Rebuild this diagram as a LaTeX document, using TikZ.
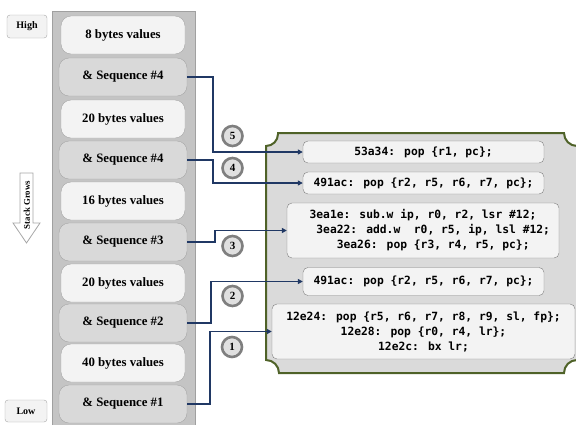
\documentclass[tikz,border=0pt]{standalone}
\usepackage{fontspec}
\setmainfont{Liberation Serif}
\newfontfamily\codefont{DejaVu Sans Mono}
\usetikzlibrary{arrows.meta}
\definecolor{colfill}{RGB}{196,196,196}
\definecolor{colline}{RGB}{160,160,160}
\definecolor{lightbox}{RGB}{243,243,243}
\definecolor{seqgray}{RGB}{217,217,217}
\definecolor{boxline}{RGB}{166,166,166}
\definecolor{greenline}{RGB}{79,98,40}
\definecolor{greenfill}{RGB}{218,218,218}
\definecolor{codeline}{RGB}{127,127,127}
\definecolor{navy}{RGB}{32,56,100}
\definecolor{ringgray}{RGB}{127,127,127}
\definecolor{numfill}{RGB}{224,224,224}
\tikzset{
  valbox/.style={draw=boxline, fill=lightbox, rounded corners=10pt, minimum width=124pt, minimum height=38pt, inner sep=0pt, font=\fontsize{12.8}{15}\selectfont\bfseries},
  seqbox/.style={valbox, fill=seqgray, minimum width=128pt},
  codebox/.style={draw=codeline, fill=lightbox, rounded corners=5pt, inner sep=0pt, align=center, font=\codefont\fontsize{11.3}{15}\selectfont\bfseries},
  numc/.style={circle, draw=ringgray, line width=2.6pt, fill=numfill, minimum size=20pt, inner sep=0pt, font=\fontsize{11}{12}\selectfont\bfseries},
  conn/.style={draw=navy, line width=1.6pt, -{Triangle[length=5pt,width=5pt]}},
  tagbox/.style={draw=boxline, fill=lightbox, rounded corners=3pt, inner sep=0pt, font=\fontsize{10}{12}\selectfont\bfseries}
}
\begin{document}
\begin{tikzpicture}[x=1pt,y=-1pt]
\useasboundingbox (0,0) rectangle (576,424);
% stack column
\fill[colfill] (52,11) rectangle (195,430);
\draw[colline, line width=0.8pt] (52,430) -- (52,11) -- (195,11) -- (195,430);
% stack entries
\node[valbox] (v8) at (123,35) {8 bytes values};
\node[seqbox] (s4a) at (123,77) {\& Sequence \#4};
\node[valbox] (v20a) at (123,119) {20 bytes values};
\node[seqbox] (s4b) at (123,160) {\& Sequence \#4};
\node[valbox] (v16) at (123,201) {16 bytes values};
\node[seqbox] (s3) at (123,242) {\& Sequence \#3};
\node[valbox] (v20b) at (123,283) {20 bytes values};
\node[seqbox] (s2) at (123,323) {\& Sequence \#2};
\node[valbox] (v40) at (123,363) {40 bytes values};
\node[seqbox] (s1) at (123,404) {\& Sequence \#1};
% high / low
\node[tagbox, minimum width=40pt, minimum height=23pt] (hi) at (27,26.5) {High};
\node[tagbox, minimum width=42pt, minimum height=22pt] (lo) at (26,411) {Low};
% stack grows arrow
\draw[draw=boxline, fill=white, line width=0.8pt] (20,173) -- (33,173) -- (33,223) -- (40,223) -- (26.5,243) -- (13,223) -- (20,223) -- cycle;
\node[rotate=90, inner sep=0pt, font=\fontsize{8.8}{10}\selectfont\bfseries] (sg) at (26.8,205) {Stack Grows};
% gadget container
\draw[draw=greenline, fill=greenfill, line width=2pt]
  (278,133) -- (564,133) arc[start angle=180,end angle=270,radius=13pt]
  -- (577,360) arc[start angle=90,end angle=180,radius=13pt]
  -- (279,373) arc[start angle=0,end angle=90,radius=13pt]
  -- (266,146) arc[start angle=-90,end angle=0,radius=12pt] -- cycle;
% code boxes
\node[codebox, minimum width=241pt, minimum height=22pt] (c5) at (423.5,152) {53a34: pop \{r1, pc\};};
\node[codebox, minimum width=241pt, minimum height=22pt] (c4) at (423.5,183) {491ac: pop \{r2, r5, r6, r7, pc\};};
\node[codebox, minimum width=272pt, minimum height=55pt] (c3) at (423,230.5) {3ea1e: sub.w ip, r0, r2, lsr \#12;\\\phantom{000}3ea22: add.w\ \ r0, r5, ip, lsl \#12;\\\phantom{000}3ea26: pop \{r3, r4, r5, pc\};};
\node[codebox, minimum width=241pt, minimum height=28pt] (c2) at (423.5,281.5) {491ac: pop \{r2, r5, r6, r7, pc\};};
\node[codebox, minimum width=303pt, minimum height=55pt] (c1) at (423.5,331.5) {12e24: pop \{r5, r6, r7, r8, r9, sl, fp\};\\12e28: pop \{r0, r4, lr\};\\12e2c: bx lr;};
% connectors
\draw[conn] (s4a.east) -- ++(26,0) |- (c5.west);
\draw[conn] (s4b.east) -- ++(26,0) |- (c4.west);
\draw[conn] (s3.east) -- ++(28,0) |- (c3.west);
\draw[conn] (s2.east) -- ++(24,0) |- (c2.west);
\draw[conn] (s1.east) -- ++(23,0) |- (c1.west);
% step numbers
\node[numc] (n5) at (232.5,136) {5};
\node[numc] (n4) at (232.5,168) {4};
\node[numc] (n3) at (232.5,246) {3};
\node[numc] (n2) at (232.5,296) {2};
\node[numc] (n1) at (232,347) {1};
\end{tikzpicture}
\end{document}
